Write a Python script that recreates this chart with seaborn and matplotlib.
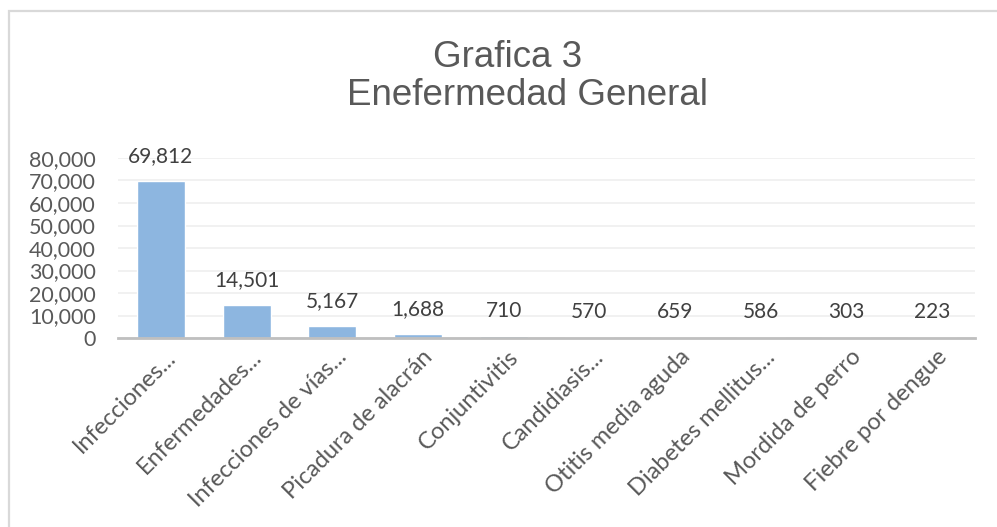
import matplotlib
matplotlib.use("Agg")
import matplotlib.pyplot as plt
import matplotlib.transforms as mtransforms
import seaborn as sns
import pandas as pd
from matplotlib.patches import Rectangle
from matplotlib.ticker import FuncFormatter

# Datos de la gráfica
categorias = ["Infecciones...", "Enfermedades...", "Infecciones de vías...",
              "Picadura de alacrán", "Conjuntivitis", "Candidiasis...",
              "Otitis media aguda", "Diabetes mellitus...", "Mordida de perro",
              "Fiebre por dengue"]
casos = [69812, 14501, 5167, 1688, 710, 570, 659, 586, 303, 223]
titulo_1 = "Grafica 3"
titulo_2 = "Enefermedad General"

df = pd.DataFrame({"categoria": categorias, "casos": casos})

sns.set_style("white")
plt.rcParams["font.family"] = ["Lato", "DejaVu Sans"]

W, H = 997, 527
fig = plt.figure(figsize=(W / 100, H / 100), dpi=100)

# marco del área del gráfico (recortado a la derecha y abajo)
fig.patches.append(Rectangle((9 / W, -0.1), 1.2, (1 - 11 / H) + 0.1,
                             transform=fig.transFigure, fill=False,
                             edgecolor="#D9D9D9", linewidth=1.6))

ax = fig.add_axes([118 / W, 1 - 338 / H, (975 - 118) / W, 180 / H])
sns.barplot(data=df, x="categoria", y="casos", color="#8DB6E0",
            saturation=1, width=0.56, ax=ax)

ax.set_ylim(0, 80000)
ax.set_yticks(range(0, 80001, 10000))
ax.yaxis.set_major_formatter(FuncFormatter(lambda v, p: f"{int(v):,}"))
ax.grid(axis="y", color="#EFEFEF", linewidth=1.2)
ax.set_axisbelow(True)
for s in ["top", "right", "left"]:
    ax.spines[s].set_visible(False)
ax.spines["bottom"].set_color("#BFBFBF")
ax.spines["bottom"].set_linewidth(2)
ax.tick_params(axis="y", length=0, labelsize=15.5, labelcolor="#595959", pad=16)
ax.tick_params(axis="x", length=0, labelsize=17, labelcolor="#595959", pad=6)
ax.set_xlabel("")
ax.set_ylabel("")
desplaza = mtransforms.ScaledTranslation(0.04, 0, fig.dpi_scale_trans)
for lbl in ax.get_xticklabels():
    lbl.set_rotation(45)
    lbl.set_ha("right")
    lbl.set_va("top")
    lbl.set_rotation_mode("anchor")
    lbl.set_transform(lbl.get_transform() + desplaza)

for i, v in enumerate(casos):
    ax.annotate(f"{v:,}", (i, v), xytext=(0, 18), textcoords="offset points",
                ha="center", va="center", fontsize=15, color="#404040")

fig.text(508 / W, 1 - 67 / H, titulo_1, ha="center", va="baseline",
         fontsize=26.5, color="#595959", family=["Liberation Sans", "DejaVu Sans"])
fig.text(527 / W, 1 - 105 / H, titulo_2, ha="center", va="baseline",
         fontsize=26.5, color="#595959", family=["Liberation Sans", "DejaVu Sans"])

fig.savefig("out.png", dpi=100)
